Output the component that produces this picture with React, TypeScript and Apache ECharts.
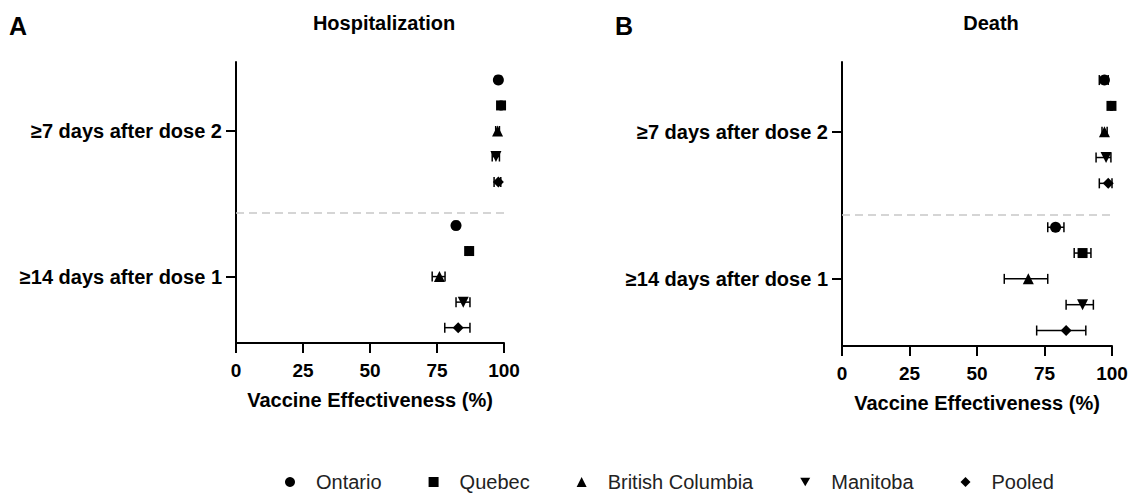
import React, { useEffect, useRef } from "react";
import * as echarts from "echarts";

const regions = ["Ontario", "Quebec", "British Columbia", "Manitoba", "Pooled"];
const periods = ["≥7 days after dose 2", "≥14 days after dose 1"];
const panelTitles = ["Hospitalization", "Death"];
const panelLetters = ["A", "B"];
const xAxisTitle = "Vaccine Effectiveness (%)";

// Hospitalization: [dose 2 (≥7 d), dose 1 (≥14 d)] per region
const hospDose2Est = [97.9, 98.9, 97.6, 97.0, 97.9];
const hospDose2Lo = [97.5, 98.6, 96.9, 95.6, 96.3];
const hospDose2Hi = [98.3, 99.2, 98.3, 98.3, 98.8];
const hospDose1Est = [82.1, 87.0, 75.9, 84.8, 82.9];
const hospDose1Lo = [81.4, 86.4, 73.2, 82.1, 77.9];
const hospDose1Hi = [82.8, 87.6, 78.0, 87.3, 87.3];

// Death
const deathDose2Est = [97.2, 99.8, 97.2, 97.8, 98.6];
const deathDose2Lo = [95.3, 99.5, 96.3, 94.1, 95.3];
const deathDose2Hi = [98.6, 100, 98.2, 99.6, 100];
const deathDose1Est = [79.1, 89.1, 69.0, 89.1, 83.0];
const deathDose1Lo = [76.2, 86.0, 60.1, 83.0, 72.1];
const deathDose1Hi = [82.2, 92.2, 76.2, 93.1, 90.3];

const FONT = "'Liberation Sans', Arial, Helvetica, sans-serif";
const DOWN_TRI = "path://M0,0L10,0L5,8.66Z";
const symbols = ["circle", "rect", "triangle", DOWN_TRI, "diamond"];
const symbolSizes = [11, 10, 11, 11, 11];

// layout (y-axis units, 1 unit = one row slot)
const Y_MAX = 11;
const groupCenters = [8.3, 2.6]; // dose2 row, dose1 row
const separatorY = 5.1;

const panels = [
  {
    est: [hospDose2Est, hospDose1Est],
    lo: [hospDose2Lo, hospDose1Lo],
    hi: [hospDose2Hi, hospDose1Hi],
  },
  {
    est: [deathDose2Est, deathDose1Est],
    lo: [deathDose2Lo, deathDose1Lo],
    hi: [deathDose2Hi, deathDose1Hi],
  },
];

function rowY(p: number, i: number) {
  return groupCenters[p] + (2 - i);
}

export default function App() {
  const ref = useRef<HTMLDivElement>(null);

  useEffect(() => {
    document.body.style.margin = "0";
    const chart = echarts.init(ref.current!, null, { renderer: "svg" });

    const grids = [
      { left: 236, top: 62, width: 268, height: 281 },
      { left: 842, top: 62, width: 270, height: 284 },
    ];

    const xAxes = grids.map((_, g) => ({
      type: "value",
      gridIndex: g,
      min: 0,
      max: 100,
      interval: 25,
      axisLine: { show: true, lineStyle: { color: "#000", width: 2 } },
      axisTick: { show: true, length: 10, lineStyle: { color: "#000", width: 2 } },
      axisLabel: {
        color: "#000",
        fontFamily: FONT,
        fontWeight: "bold",
        fontSize: 19,
        margin: 18,
      },
      splitLine: { show: false },
      name: xAxisTitle,
      nameLocation: "middle",
      nameGap: 47,
      nameTextStyle: { color: "#000", fontFamily: FONT, fontWeight: "bold", fontSize: 20 },
    }));

    const yAxes = grids.map((_, g) => ({
      type: "value",
      gridIndex: g,
      min: 0,
      max: Y_MAX,
      axisLine: { show: true, lineStyle: { color: "#000", width: 2 } },
      axisTick: {
        show: true,
        length: 10,
        customValues: groupCenters,
        lineStyle: { color: "#000", width: 2 },
      },
      axisLabel: {
        show: true,
        customValues: groupCenters,
        margin: 14,
        color: "#000",
        fontFamily: FONT,
        fontWeight: "bold",
        fontSize: 20,
        formatter: (v: number) =>
          Math.abs(v - groupCenters[0]) < 0.05 ? periods[0] : periods[1],
      },
      splitLine: { show: false },
    }));

    const series: any[] = [];
    panels.forEach((panel, g) => {
      const errData: number[][] = [];
      regions.forEach((_, i) => {
        periods.forEach((__, p) => {
          errData.push([panel.lo[p][i], panel.hi[p][i], rowY(p, i)]);
        });
      });
      series.push({
        type: "custom",
        xAxisIndex: g,
        yAxisIndex: g,
        z: 1,
        silent: true,
        encode: { x: [0, 1], y: 2 },
        data: errData,
        renderItem: (params: any, api: any) => {
          const y = api.value(2);
          const a = api.coord([api.value(0), y]);
          const b = api.coord([api.value(1), y]);
          const h = 5;
          const style = { stroke: "#000", lineWidth: 1.5, fill: null };
          return {
            type: "group",
            children: [
              { type: "line", shape: { x1: a[0], y1: a[1], x2: b[0], y2: b[1] }, style },
              { type: "line", shape: { x1: a[0], y1: a[1] - h, x2: a[0], y2: a[1] + h }, style },
              { type: "line", shape: { x1: b[0], y1: b[1] - h, x2: b[0], y2: b[1] + h }, style },
            ],
          };
        },
      });
      regions.forEach((name, i) => {
        const s: any = {
          type: "scatter",
          name,
          xAxisIndex: g,
          yAxisIndex: g,
          z: 3,
          symbol: symbols[i],
          symbolSize: symbolSizes[i],
          itemStyle: { color: "#000", opacity: 1 },
          data: periods.map((__, p) => [panel.est[p][i], rowY(p, i)]),
        };
        if (i === 0) {
          s.markLine = {
            silent: true,
            symbol: "none",
            label: { show: false },
            lineStyle: { color: "#c8c8c8", type: [8, 5], width: 1.5 },
            data: [{ yAxis: separatorY }],
          };
        }
        series.push(s);
      });
    });

    const graphic: any[] = [];
    const titleCenters = [384, 991];
    const letterX = [9, 615];
    panelTitles.forEach((t, g) => {
      graphic.push({
        type: "text",
        x: letterX[g],
        y: 26,
        style: {
          text: panelLetters[g],
          font: `bold 25px ${FONT}`,
          fill: "#000",
          textVerticalAlign: "middle",
          verticalAlign: "middle",
        },
      });
      graphic.push({
        type: "text",
        x: titleCenters[g],
        y: 23,
        style: {
          text: t,
          font: `bold 20px ${FONT}`,
          fill: "#000",
          align: "center",
          textAlign: "center",
          verticalAlign: "middle",
          textVerticalAlign: "middle",
        },
      });
    });

    chart.setOption({
      animation: false,
      backgroundColor: "#fff",
      grid: grids,
      xAxis: xAxes,
      yAxis: yAxes,
      legend: {
        left: 285,
        top: 472,
        padding: 0,
        itemWidth: 10,
        itemHeight: 10,
        itemGap: 47,
        selectedMode: false,
        itemStyle: { color: "#000" },
        textStyle: { color: "#222", fontFamily: FONT, fontSize: 20, padding: [0, 0, 0, 16] },
        data: regions.map((n, i) => ({ name: n, icon: symbols[i] })),
      },
      graphic,
      series,
    });

    return () => chart.dispose();
  }, []);

  return <div ref={ref} style={{ width: 1133, height: 494 }} />;
}
